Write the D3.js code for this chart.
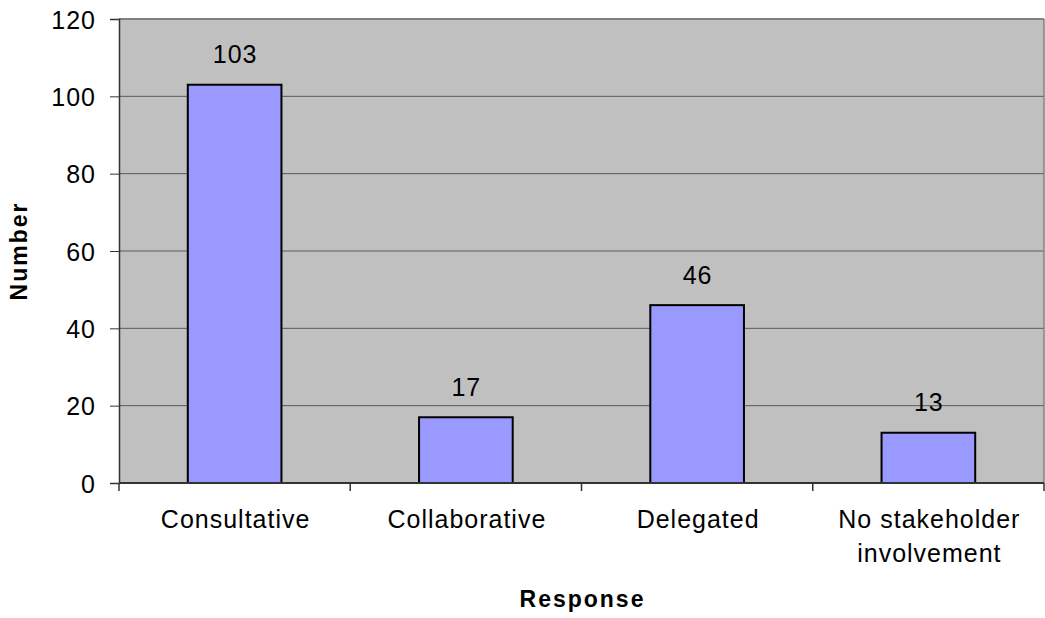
<!DOCTYPE html>
<html><head><meta charset="utf-8">
<script src="https://cdn.jsdelivr.net/npm/d3@7"></script>
<style>body{margin:0;background:#fff}svg{display:block}text{font-family:"Liberation Sans",Arial,sans-serif}</style>
</head><body>
<script>
const categories = ["Consultative", "Collaborative", "Delegated", "No stakeholder|involvement"];
const values = [103, 17, 46, 13];
const yTicks = [0, 20, 40, 60, 80, 100, 120];
const yTitle = "Number";
const xTitle = "Response";

const W = 1045, H = 618;
const m = {left: 119, right: 1, top: 19, bottom: 135};
const svg = d3.select("body").append("svg").attr("width", W).attr("height", H);
const x = d3.scaleBand().domain(categories).range([m.left, W - m.right]).paddingInner(0.595).paddingOuter(0.2975);
const y = d3.scaleLinear().domain([0, 120]).range([H - m.bottom, m.top]);
const x0 = m.left, x1 = W - m.right, y0 = y(0), yT = y(120);

svg.append("rect").attr("x", x0).attr("y", yT).attr("width", x1 - x0).attr("height", y0 - yT).attr("fill", "#c0c0c0");
// gridlines
svg.append("g").selectAll("line").data(yTicks.filter(d => d > 0 && d < 120)).join("line")
  .attr("x1", x0).attr("x2", x1).attr("y1", d => y(d)).attr("y2", d => y(d))
  .attr("stroke", "#5a5a5a").attr("stroke-width", 1);
// top/right border
svg.append("line").attr("x1", x0).attr("x2", x1).attr("y1", yT).attr("y2", yT).attr("stroke", "#808080").attr("stroke-width", 2);
svg.append("line").attr("x1", x1).attr("x2", x1).attr("y1", yT).attr("y2", y0).attr("stroke", "#808080").attr("stroke-width", 1.5);

// bars
svg.append("g").selectAll("rect").data(values).join("rect")
  .attr("x", (d, i) => x(categories[i])).attr("width", x.bandwidth())
  .attr("y", d => y(d)).attr("height", d => y0 - y(d))
  .attr("fill", "#9999ff").attr("stroke", "#000").attr("stroke-width", 2);
// value labels
svg.append("g").selectAll("text").data(values).join("text")
  .attr("x", (d, i) => x(categories[i]) + x.bandwidth() / 2 + 0.5).attr("y", d => y(d) - 21.5)
  .attr("text-anchor", "middle").attr("font-size", 25).attr("letter-spacing", 1).attr("fill", "#000")
  .text(d => d);

// y axis
const yAxis = d3.axisLeft(y).tickValues(yTicks).tickSize(9).tickPadding(14).tickFormat(d3.format("d"));
const gy = svg.append("g").attr("transform", `translate(${x0},0)`).call(yAxis);
gy.select(".domain").attr("stroke", "#333").attr("stroke-width", 1.5);
gy.selectAll(".tick line").attr("stroke", "#333");
gy.selectAll(".tick text").attr("font-size", 25).attr("letter-spacing", 1).attr("fill", "#000")
  .attr("font-family", "Liberation Sans, Arial, sans-serif").attr("dy", "0.36em");

// x axis
const xb = d3.scaleLinear().domain([0, categories.length]).range([x0, x1]);
svg.append("line").attr("x1", x0).attr("x2", x1).attr("y1", y0).attr("y2", y0).attr("stroke", "#333").attr("stroke-width", 2);
svg.append("g").selectAll("line").data(d3.range(categories.length + 1)).join("line")
  .attr("x1", d => xb(d)).attr("x2", d => xb(d)).attr("y1", y0).attr("y2", y0 + 8).attr("stroke", "#333").attr("stroke-width", 1.5);
const xl = svg.append("g").selectAll("text").data(categories).join("text")
  .attr("text-anchor", "middle").attr("font-size", 25).attr("letter-spacing", 1).attr("fill", "#000")
  .attr("transform", d => `translate(${x(d) + x.bandwidth() / 2 + 1},${y0 + 45})`);
xl.each(function(d) {
  const lines = d.split("|");
  d3.select(this).selectAll("tspan").data(lines).join("tspan").attr("x", 0).attr("y", (l, i) => i * 34).text(l => l);
});

// titles
svg.append("text").attr("x", (x0 + x1) / 2 + 1).attr("y", 607).attr("text-anchor", "middle")
  .attr("font-size", 23).attr("font-weight", "bold").attr("letter-spacing", 2).text(xTitle);
svg.append("text").attr("transform", `translate(27,${(y0 + yT) / 2})rotate(-90)`).attr("text-anchor", "middle")
  .attr("font-size", 23).attr("font-weight", "bold").attr("letter-spacing", 2).text(yTitle);
</script>
</body></html>
